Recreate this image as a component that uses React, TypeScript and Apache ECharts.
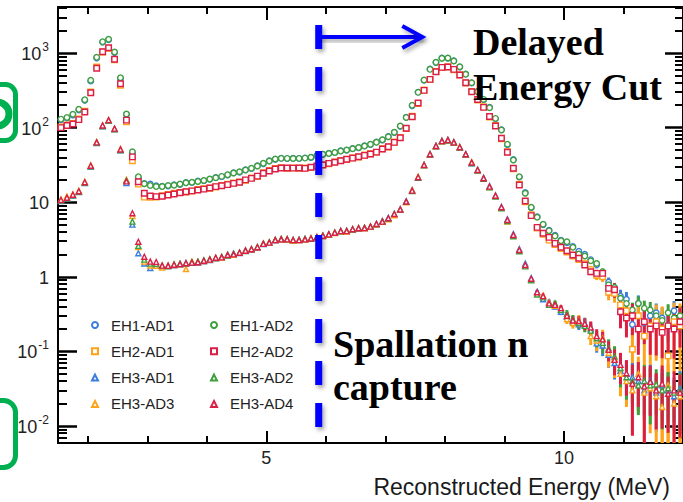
import React, { useEffect, useRef } from 'react';
import * as echarts from 'echarts';

// ---- axis ranges / annotation positions (data units) ----
const E_MIN = 1.5;
const E_MAX = 12;
const Y_MIN_DEC = -2.228; // log10 of axis minimum
const Y_MAX_DEC = 3.617; // log10 of axis maximum
const BIN_START = 1.55; // MeV, first bin centre
const BIN_WIDTH = 0.1; // MeV
const TAIL_START = 80; // first bin index that carries a visible error bar
const X_TICKS = [2, 3, 4, 5, 6, 7, 8, 9, 10, 11, 12];
const X_MAJOR = [5, 10];
const Y_DECADES = [-2, -1, 0, 1, 2, 3];
const CUT_E = 5.88;
const ARROW_END_E = 7.62;

// ---- entries per bin (0.1 MeV bins from 1.55 MeV) ----
const EH1_AD2 = [130,137,151,176,237,431,876,1419,1528,1031,467,152,47.5,22,17.7,16.8,16.2,16.2,16.7,16.9,17.5,18.2,18.5,19,19.6,20.5,21.3,22.2,23.4,24.6,25.6,27,28.5,30.5,33.2,35.6,37.9,38.7,38.7,38.5,38.7,39,40,42,43.9,45,46.5,48.5,50,52,54,56.6,59.7,63.5,68.8,75.5,86.5,105,137,199,297,435,604,750,849,857,782,655,518,400,303,239,185,133,93,60,36.8,22,13.2,8.55,6.28,5.06,4.15,3.52,3.05,2.95,2.49,2.02,1.9,1.64,1.51,1.17,0.78,0.72,0.515,0.44,0.36,0.44,0.38,0.36,0.3,0.26,0.33,0.28,0.3];
const EH1_AD1 = [127,134,148,172,232,420,860,1400,1510,1015,455,150,46,21.5,17.8,17.5,16.6,16.4,16.5,17.2,17.3,18.4,18.3,19.3,19.4,20.3,21.5,22,23.2,24.9,25.3,27.3,28.2,30.9,32.8,35.9,37.5,38.9,38.4,38.8,38.5,39.3,39.7,42.3,43.6,45.4,46.2,48.9,49.6,52.4,53.6,57,59.2,64,68.3,76,86,104,138,197,299,431,609,744,855,851,788,650,522,396,306,236,187,131,94,59,37.3,21.7,13.5,8.4,6.4,5.0,4.2,3.6,3.1,2.85,2.55,2.2,2.0,1.7,1.45,1.1,0.85,0.66,0.55,0.5,0.23,0.44,0.24,0.3,0.33,0.28,0.22,0.35,0.27];
const EH2_AD2 = [100,107,112,128,162,294,624,1041,1178,824,387,126,40.5,18.8,13.2,12.1,11.9,12.0,12.5,12.9,13.4,13.8,14.2,14.6,15,15.5,16.2,16.6,17.2,17.9,18.5,19.9,20.9,22.4,24.4,26.2,27.9,28.7,28.7,28.6,28.7,28.4,29.4,30.5,31.5,33.2,34.3,36,37.6,39,40.7,42.5,44.2,47,51.6,55.5,63.5,73.3,98,140,214,316,444,561,643,649,604,507,400,303,238,187,141,105,72,46.7,28.5,17,10.4,6.6,4.6,3.83,3.38,2.81,2.49,2.24,1.96,1.77,1.44,1.17,1.11,1.11,0.7,0.67,0.34,0.28,0.3,0.2,0.25,0.2,0.22,0.18,0.22,0.2,0.25];
const EH2_AD1 = [102,109,114,131,166,300,650,1030,1160,810,370,120,36,17.5,11.7,11.6,11.7,12.2,12.7,13.2,13.5,13.7,14.1,14.8,15.2,15.4,16,16.8,17.4,18.1,18.7,19.6,21.2,22.1,24.8,26.6,28.3,29.1,28.4,28.9,28.5,28.8,29.1,30.9,31.9,32.8,34.7,36.4,37.2,39.5,40.3,42.9,44.7,46.6,52.1,55,64.2,74,97,142,211,320,440,566,637,655,598,512,396,306,235,190,139,107,71,47.5,28,17.4,10.1,6.8,4.5,3.7,3.1,2.7,2.4,2.15,1.9,1.7,1.5,1.25,1.05,1.0,0.62,0.6,0.42,0.35,0.107,0.3,0.16,0.22,0.25,0.2,0.087,0.25,0.22];
const EH3_AD4 = [10.7,11.5,12.6,14,18.5,30.8,63.5,107,126,97,51,19,7.1,2.95,1.86,1.6,1.58,1.41,1.4,1.45,1.48,1.52,1.55,1.57,1.64,1.7,1.8,1.82,1.96,2.0,2.1,2.24,2.34,2.49,2.76,2.87,3.1,3.18,3.18,3.1,3.1,3.18,3.26,3.38,3.55,3.7,3.9,4.1,4.1,4.34,4.47,4.5,4.7,5.1,5.5,6.1,6.95,8.0,10.2,14.3,21.6,31.5,43.9,56.6,66,68,63.5,54.5,43.9,34,27,21,16.2,12.2,8.55,5.77,3.63,2.29,1.44,0.94,0.62,0.55,0.44,0.42,0.38,0.3,0.26,0.255,0.235,0.21,0.16,0.145,0.105,0.077,0.066,0.051,0.037,0.045,0.034,0.039,0.03,0.037,0.027,0.03,0.028];
const EH3_AD2 = [10.5,11.3,12.4,13.8,18.2,30.4,62.8,105,124,96,50,19.5,5.5,2.6,1.7,1.5,1.48,1.42,1.38,1.47,1.5,1.5,1.56,1.6,1.66,1.72,1.78,1.85,1.93,2.03,2.12,2.22,2.36,2.51,2.8,2.9,3.13,3.22,3.2,3.12,3.14,3.2,3.24,3.4,3.58,3.72,3.92,4.06,4.14,4.3,4.5,4.55,4.72,5.05,5.55,6.05,7.0,7.9,10.1,14.1,21.4,31.2,43.5,56,65.3,67.3,63,54,43.4,33.5,26.6,20.6,15.8,11.9,8.3,5.6,3.5,2.2,1.38,0.9,0.58,0.53,0.42,0.44,0.36,0.32,0.27,0.24,0.22,0.19,0.15,0.13,0.11,0.085,0.06,0.045,0.04,0.035,0.04,0.035,0.036,0.03,0.032,0.028,0.03];
const EH3_AD1 = [10.4,11.2,12.3,13.7,18,30,62,104,123,95,49.5,18,5.0,2.07,1.51,1.31,1.45,1.38,1.42,1.43,1.46,1.53,1.54,1.55,1.62,1.68,1.77,1.83,1.98,2.05,2.08,2.26,2.32,2.46,2.74,2.85,3.08,3.16,3.15,3.08,3.12,3.21,3.28,3.37,3.52,3.68,3.88,4.12,4.12,4.36,4.44,4.52,4.68,5.12,5.6,6.2,6.9,8.1,10.3,14.4,21.3,31.8,44.2,57,66.5,68.4,64,54.9,44.3,33.2,27.3,21.3,16.5,12.4,8.7,5.9,3.75,2.35,1.5,0.96,0.63,0.5,0.46,0.4,0.34,0.29,0.25,0.23,0.24,0.2,0.128,0.12,0.09,0.07,0.055,0.05,0.045,0.04,0.03,0.04,0.028,0.035,0.03,0.025,0.032];
const EH3_AD3 = [10.9,11.9,12.8,14.2,18.8,31.2,64,106,125,96,51.5,20,6.5,2.5,1.6,1.42,1.4,1.33,1.41,1.44,1.47,1.27,1.6,1.58,1.63,1.69,1.79,1.81,1.95,1.98,2.1,2.25,2.33,2.48,2.77,2.88,3.11,3.19,3.17,3.05,3.11,3.16,3.27,3.35,3.5,3.66,3.85,4.08,4.05,4.33,4.48,4.46,4.71,5.0,5.45,5.9,6.7,8.05,10.0,14.5,21.9,31.4,44.0,56.2,65.8,67.6,63.3,54.7,43.6,34.5,26.8,20.8,16,12.1,8.4,5.5,3.55,2.25,1.4,0.92,0.6,0.56,0.45,0.41,0.36,0.27,0.24,0.26,0.23,0.16,0.14,0.15,0.095,0.08,0.05,0.04,0.03,0.05,0.028,0.032,0.025,0.018,0.035,0.02,0.025];

// ---- relative statistical errors for bins from TAIL_START on ----
const ERR_EH1_AD2 = [0.03,0.03,0.04,0.04,0.05,0.05,0.06,0.06,0.07,0.08,0.09,0.1,0.14,0.15,0.2,0.22,0.25,0.24,0.26,0.28,0.3,0.33,0.3,0.33,0.32];
const ERR_EH1_AD1 = [0.03,0.04,0.04,0.05,0.05,0.06,0.06,0.07,0.08,0.09,0.1,0.12,0.15,0.17,0.22,0.25,0.35,0.28,0.4,0.35,0.33,0.38,0.4,0.35,0.38];
const ERR_EH2_AD2 = [0.04,0.04,0.05,0.05,0.06,0.06,0.07,0.08,0.09,0.1,0.12,0.13,0.2,0.22,0.4,0.45,0.45,0.55,0.5,0.55,0.6,0.55,0.6,0.6,0.55];
const ERR_EH2_AD1 = [0.04,0.05,0.05,0.06,0.06,0.07,0.08,0.09,0.1,0.12,0.14,0.15,0.22,0.25,0.45,0.5,0.8,0.6,0.7,0.75,0.7,1.0,0.95,0.8,1.0];
const ERR_EH3_AD4 = [0.06,0.07,0.08,0.09,0.1,0.12,0.14,0.16,0.18,0.2,0.24,0.26,0.3,0.38,0.45,0.5,0.8,0.6,0.85,0.65,0.7,0.75,0.7,0.8,0.75];
const ERR_EH3_AD2 = [0.06,0.07,0.08,0.09,0.1,0.12,0.14,0.16,0.18,0.21,0.25,0.28,0.32,0.38,0.45,0.5,0.55,0.6,0.65,0.7,0.6,0.7,0.65,0.6,0.7];
const ERR_EH3_AD1 = [0.06,0.07,0.08,0.09,0.1,0.12,0.14,0.16,0.18,0.22,0.25,0.28,0.33,0.4,0.45,0.5,0.55,0.6,0.6,0.65,0.7,0.65,0.7,0.65,0.7];
const ERR_EH3_AD3 = [0.07,0.08,0.09,0.1,0.12,0.14,0.16,0.18,0.2,0.24,0.28,0.3,0.36,0.45,0.5,0.55,0.75,0.7,0.85,0.75,1.0,1.0,0.95,0.8,1.0];

const BLUE = '#3b7ddd';
const GREEN = '#3f9f3f';
const ORANGE = '#ffa21a';
const RED = '#dc1e46';

// draw order: lower layers first
const SERIES_DEFS = [
  { name: 'EH1-AD1', values: EH1_AD1, err: ERR_EH1_AD1, symbol: 'circle', color: BLUE, size: 5.5 },
  { name: 'EH1-AD2', values: EH1_AD2, err: ERR_EH1_AD2, symbol: 'circle', color: GREEN, size: 5.5 },
  { name: 'EH2-AD1', values: EH2_AD1, err: ERR_EH2_AD1, symbol: 'rect', color: ORANGE, size: 5.5 },
  { name: 'EH2-AD2', values: EH2_AD2, err: ERR_EH2_AD2, symbol: 'rect', color: RED, size: 5.5 },
  { name: 'EH3-AD1', values: EH3_AD1, err: ERR_EH3_AD1, symbol: 'triangle', color: BLUE, size: 5 },
  { name: 'EH3-AD3', values: EH3_AD3, err: ERR_EH3_AD3, symbol: 'triangle', color: ORANGE, size: 5 },
  { name: 'EH3-AD2', values: EH3_AD2, err: ERR_EH3_AD2, symbol: 'triangle', color: GREEN, size: 5 },
  { name: 'EH3-AD4', values: EH3_AD4, err: ERR_EH3_AD4, symbol: 'triangle', color: RED, size: 5 },
];
const LEGEND_COL1 = ['EH1-AD1', 'EH2-AD1', 'EH3-AD1', 'EH3-AD3'];
const LEGEND_COL2 = ['EH1-AD2', 'EH2-AD2', 'EH3-AD2', 'EH3-AD4'];

const SANS = '"Liberation Sans", Arial, sans-serif';
const SERIF = '"Liberation Serif", "Times New Roman", serif';

const binE = (i: number) => BIN_START + BIN_WIDTH * i;

function minorTicks(): number[] {
  const out: number[] = [];
  for (let k = -3; k <= 3; k++) {
    for (let m = 2; m <= 9; m++) {
      const v = Math.log10(m) + k;
      if (v > Y_MIN_DEC && v < Y_MAX_DEC) out.push(v);
    }
  }
  return out;
}

function buildOption() {
  const MINOR = minorTicks();
  const yBase = {
    type: 'value',
    min: Y_MIN_DEC,
    max: Y_MAX_DEC,
    splitLine: { show: false },
    axisLabel: { show: false },
    axisLine: { show: false, onZero: false },
  };
  const xBase = {
    type: 'value',
    min: E_MIN,
    max: E_MAX,
    splitLine: { show: false },
    axisLabel: { show: false },
    axisLine: { show: false, onZero: false },
  };
  const line = { show: true, onZero: false, lineStyle: { color: '#000', width: 2 } };
  const tick = (values: number[], length: number, width: number) => ({
    show: true,
    inside: true,
    length,
    customValues: values,
    lineStyle: { color: '#000', width },
  });

  const errSeries = SERIES_DEFS.map((d) => ({
    type: 'custom',
    xAxisIndex: 0,
    yAxisIndex: 0,
    z: 2,
    silent: true,
    clip: true,
    encode: { x: 0, y: [1, 2] },
    data: d.err.map((s, j) => {
      const i = TAIL_START + j;
      const v = d.values[i];
      const lo = v * (1 - s);
      const loDec = lo > 0 ? Math.max(Math.log10(lo), Y_MIN_DEC) : Y_MIN_DEC;
      return [binE(i), loDec, Math.min(Math.log10(v * (1 + s)), Y_MAX_DEC)];
    }),
    renderItem: (params: any, api: any) => {
      const p1 = api.coord([api.value(0), api.value(1)]);
      const p2 = api.coord([api.value(0), api.value(2)]);
      return {
        type: 'line',
        shape: { x1: p1[0], y1: p1[1], x2: p2[0], y2: p2[1] },
        style: { stroke: d.color, lineWidth: 3 },
      };
    },
  }));

  const scatterSeries = SERIES_DEFS.map((d) => ({
    type: 'scatter',
    name: d.name,
    xAxisIndex: 0,
    yAxisIndex: 0,
    z: 3,
    symbol: d.symbol,
    symbolSize: d.size,
    itemStyle: { color: '#fff', borderColor: d.color, borderWidth: 1.4, opacity: 1 },
    data: d.values.map((v, i) => [binE(i), Math.log10(v)]),
  }));

  const legendBase = {
    orient: 'vertical',
    top: 312,
    padding: 5,
    itemWidth: 6,
    itemHeight: 6,
    itemGap: 10.3,
    selectedMode: false,
    textStyle: { fontSize: 15, color: '#222', fontFamily: SANS, lineHeight: 16, padding: [0, 0, 0, 8] },
  };

  return {
    animation: false,
    backgroundColor: '#fff',
    grid: { left: 58, top: 7, width: 628, height: 436, containLabel: false },
    xAxis: [
      {
        ...xBase,
        position: 'bottom',
        axisLine: line,
        axisTick: tick(X_TICKS, 7, 2),
        axisLabel: {
          show: true,
          customValues: X_MAJOR,
          margin: 6,
          fontSize: 18,
          color: '#222',
          fontFamily: SANS,
        },
      },
      { ...xBase, position: 'bottom', axisTick: tick(X_MAJOR, 12, 2) },
      { ...xBase, position: 'top', axisLine: line, axisTick: tick(X_TICKS, 7, 2) },
      { ...xBase, position: 'top', axisTick: tick(X_MAJOR, 13, 2) },
    ],
    yAxis: [
      {
        ...yBase,
        position: 'left',
        axisLine: line,
        axisTick: tick(Y_DECADES, 19, 2.5),
        axisLabel: {
          show: true,
          customValues: Y_DECADES,
          margin: 9,
          color: '#222',
          fontFamily: SANS,
          fontSize: 18,
          formatter: (val: number) => {
            const n = Math.round(val);
            if (n === 0) return '{b|1}';
            if (n === 1) return '{b|10}';
            return '{b|10}{s|' + n + '}';
          },
          rich: {
            b: { fontSize: 18, color: '#222', fontFamily: SANS, verticalAlign: 'bottom', lineHeight: 20 },
            s: { fontSize: 12, color: '#222', fontFamily: SANS, verticalAlign: 'bottom', padding: [0, 0, 10, 1], lineHeight: 12 },
          },
        },
      },
      { ...yBase, position: 'left', axisTick: tick(MINOR, 9, 2) },
      { ...yBase, position: 'right', axisLine: line, axisTick: tick(Y_DECADES, 18, 2.5) },
      { ...yBase, position: 'right', axisTick: tick(MINOR, 8, 2) },
    ],
    legend: [
      { ...legendBase, left: 86, data: LEGEND_COL1 },
      { ...legendBase, left: 205, data: LEGEND_COL2 },
    ],
    series: [...errSeries, ...scatterSeries],
  };
}

function buildGraphic(xCut: number, xArrow: number) {
  const shadow = {
    shadowBlur: 4,
    shadowColor: 'rgba(0,0,0,0.35)',
    shadowOffsetX: 2,
    shadowOffsetY: 3,
  };
  const textShadow = {
    shadowBlur: 3,
    shadowColor: 'rgba(0,0,0,0.3)',
    shadowOffsetX: 2,
    shadowOffsetY: 2,
  };
  const bigText = (text: string, x: number, y: number) => ({
    type: 'text',
    x,
    y,
    z: 100,
    style: {
      text,
      font: 'bold 38px ' + SERIF,
      fill: '#000',
      textAlign: 'left',
      textVerticalAlign: 'middle',
      verticalAlign: 'middle',
      ...textShadow,
    },
  });
  const dashes: any[] = [];
  const DASH_TOP = 25;
  const DASH_BOTTOM = 432;
  for (let y = DASH_TOP; y < DASH_BOTTOM; y += 42) {
    dashes.push({
      type: 'rect',
      z: 90,
      shape: { x: xCut - 3.5, y, width: 7, height: Math.min(24, DASH_BOTTOM - y) },
      style: { fill: '#0000ff', ...shadow },
    });
  }
  return [
    ...dashes,
    {
      type: 'rect',
      z: 90,
      shape: { x: xCut, y: 35, width: xArrow - xCut - 1, height: 4 },
      style: { fill: '#0000ff', ...shadow },
    },
    {
      type: 'polyline',
      z: 90,
      shape: { points: [[xArrow - 20, 26], [xArrow, 37], [xArrow - 20, 48]] },
      style: { stroke: '#0000ff', fill: null, lineWidth: 4, lineJoin: 'miter', ...shadow },
    },
    bigText('Delayed', 473, 42),
    bigText('Energy Cut', 473, 87),
    bigText('Spallation n', 333, 344),
    bigText('capture', 333, 387),
    {
      type: 'text',
      x: 670,
      y: 487,
      z: 100,
      style: {
        text: 'Reconstructed Energy (MeV)',
        font: '23px ' + SANS,
        fill: '#1a1a1a',
        textAlign: 'right',
        textVerticalAlign: 'middle',
        verticalAlign: 'middle',
      },
    },
    {
      type: 'rect',
      z: 100,
      shape: { x: -22.5, y: 84.5, width: 38, height: 56, r: 10 },
      style: { stroke: '#00b050', lineWidth: 5, fill: null },
    },
    {
      type: 'circle',
      z: 100,
      shape: { cx: -3, cy: 114, r: 12 },
      style: { stroke: '#00b050', lineWidth: 7, fill: null },
    },
    {
      type: 'rect',
      z: 100,
      shape: { x: -22.5, y: 400.5, width: 38, height: 67, r: 12 },
      style: { stroke: '#00b050', lineWidth: 5, fill: null },
    },
  ];
}

export default function App() {
  const ref = useRef<HTMLDivElement>(null);
  useEffect(() => {
    if (!ref.current) return;
    const chart = echarts.init(ref.current, null, { renderer: 'svg' });
    chart.setOption(buildOption() as any);
    const xCut = chart.convertToPixel({ xAxisIndex: 0 }, CUT_E) as number;
    const xArrow = chart.convertToPixel({ xAxisIndex: 0 }, ARROW_END_E) as number;
    chart.setOption({ graphic: buildGraphic(xCut, xArrow) } as any);
    return () => chart.dispose();
  }, []);
  return (
    <div
      ref={ref}
      style={{ position: 'fixed', left: 0, top: 0, width: 683, height: 502, background: '#fff' }}
    />
  );
}
